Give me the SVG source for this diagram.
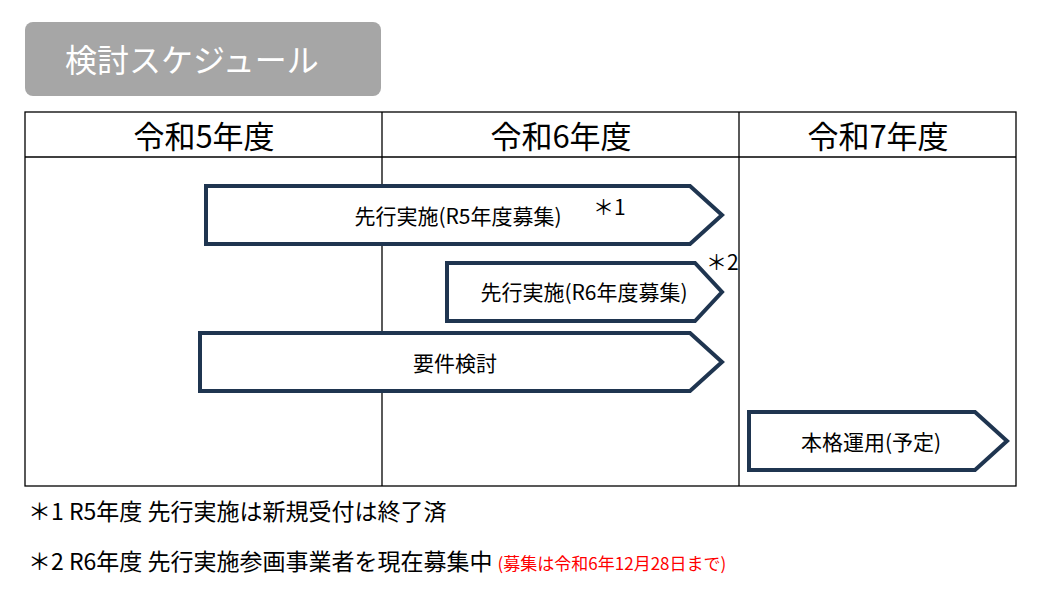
<svg xmlns="http://www.w3.org/2000/svg" width="1040" height="600" viewBox="0 0 1040 600">
<style>
text{font-family:"Noto Sans CJK JP","Noto Sans",sans-serif;fill:#000}
.hd{font-size:31px;text-anchor:middle}
.ar{fill:#fff;stroke:#1f3550;stroke-width:4;stroke-linejoin:miter}
.lb{font-size:21px;text-anchor:middle}
.ft{font-size:23px}
.grid{stroke:#000;stroke-width:1.3;fill:none}
</style>
<rect width="1040" height="600" fill="#fff"/>
<g id="title"><rect x="25" y="22" width="356" height="74" rx="8" fill="#a6a6a6"/>
<text x="65" y="72" style="font-size:32px;fill:#fff">検討スケジュール</text></g>
<g id="table">
<rect class="grid" x="25" y="112" width="991" height="374"/>
<line class="grid" x1="25" y1="157" x2="1016" y2="157"/>
<line class="grid" x1="382" y1="112" x2="382" y2="486"/>
<line class="grid" x1="739" y1="112" x2="739" y2="486"/>
<text class="hd" x="204" y="148">令和5年度</text>
<text class="hd" x="561" y="148">令和6年度</text>
<text class="hd" x="878" y="148">令和7年度</text>
</g>
<g id="bar1"><path class="ar" d="M206,186H690L722,215L690,244H206Z"/><text class="lb" x="458" y="224">先行実施(R5年度募集)</text><text x="593" y="215" style="font-size:21px">＊1</text></g>
<g id="bar2"><path class="ar" d="M447,263H695L722,292L695,321H447Z"/><text class="lb" x="584" y="300">先行実施(R6年度募集)</text><text x="706" y="270" style="font-size:21px">＊2</text></g>
<g id="bar3"><path class="ar" d="M200,333H690L722,362L690,391H200Z"/><text class="lb" x="455" y="371">要件検討</text></g>
<g id="bar4"><path class="ar" d="M749,412H975L1007,441L975,470H749Z"/><text class="lb" x="871" y="450">本格運用(予定)</text></g>
<g id="notes">
<text class="ft" x="28" y="520">＊1 R5年度 先行実施は新規受付は終了済</text>
<text class="ft" x="28" y="570">＊2 R6年度 先行実施参画事業者を現在募集中 <tspan style="font-size:17px;fill:#ff0000">(募集は令和6年12月28日まで)</tspan></text>
</g>
</svg>
